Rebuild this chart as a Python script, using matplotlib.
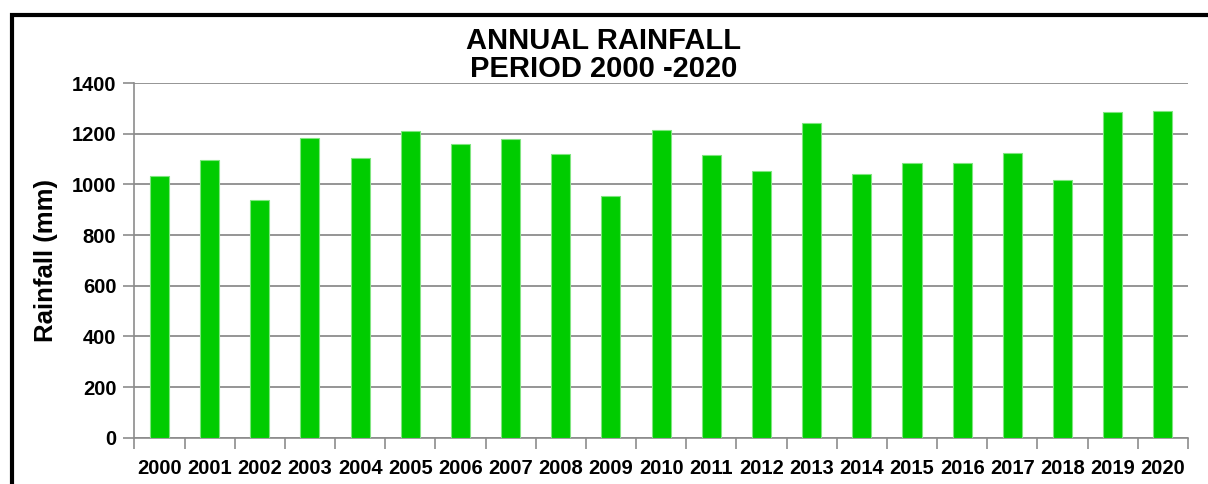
import numpy as np
import matplotlib.pyplot as plt
from matplotlib.patches import Rectangle

years = [str(y) for y in range(2000, 2021)]
rainfall = [1031, 1097, 937, 1184, 1103, 1209, 1159, 1179, 1120, 953, 1214,
            1114, 1052, 1241, 1042, 1083, 1083, 1122, 1017, 1285, 1290]
yticks = [0, 200, 400, 600, 800, 1000, 1200, 1400]

plt.rcParams['font.family'] = ['Liberation Sans', 'DejaVu Sans']

fig = plt.figure(figsize=(12.08, 4.84), dpi=100)
ax = fig.add_axes([0.1112, 0.0957, 0.8722, 0.7328])

x = np.arange(len(years))
ax.bar(x, rainfall, width=0.38, color='#00CC00', edgecolor='#7FE57F',
       linewidth=0.8, zorder=3)

ax.set_xlim(-0.5, len(years) - 0.5)
ax.set_ylim(0, 1400)
ax.set_yticks(yticks)
ax.set_yticklabels([str(v) for v in yticks], fontsize=14.5, fontweight='bold')
ax.set_xticks(x)
ax.set_xticklabels(years, fontsize=14.5, fontweight='bold')
ax.set_xticks(np.arange(-0.5, len(years)), minor=True)
ax.tick_params(axis='x', which='major', length=0, pad=15)
ax.tick_params(axis='x', which='minor', length=8, color='#8c8c8c', width=1.2)
ax.tick_params(axis='y', length=8, color='#8c8c8c', width=1.2, pad=5)

ax.grid(axis='y', color='#8c8c8c', linewidth=1.3, zorder=0)
for s in ['top', 'right']:
    ax.spines[s].set_visible(False)
for s in ['left', 'bottom']:
    ax.spines[s].set_color('#8c8c8c')
    ax.spines[s].set_linewidth(1.2)

ax.set_ylabel('Rainfall (mm)', fontsize=18.5, fontweight='bold', labelpad=10)

fig.text(0.5, 0.945, 'ANNUAL RAINFALL\nPERIOD 2000 -2020', ha='center', va='top',
         fontsize=21, fontweight='bold', linespacing=1.0)

# outer frame (only top and left edges fall inside the image)
fig.patches.append(Rectangle((12 / 1208, -0.2), 1.2, 0.2 + 1 - 15 / 484,
                             transform=fig.transFigure, fill=False,
                             edgecolor='black', linewidth=3))

fig.savefig('out.png', dpi=100)
